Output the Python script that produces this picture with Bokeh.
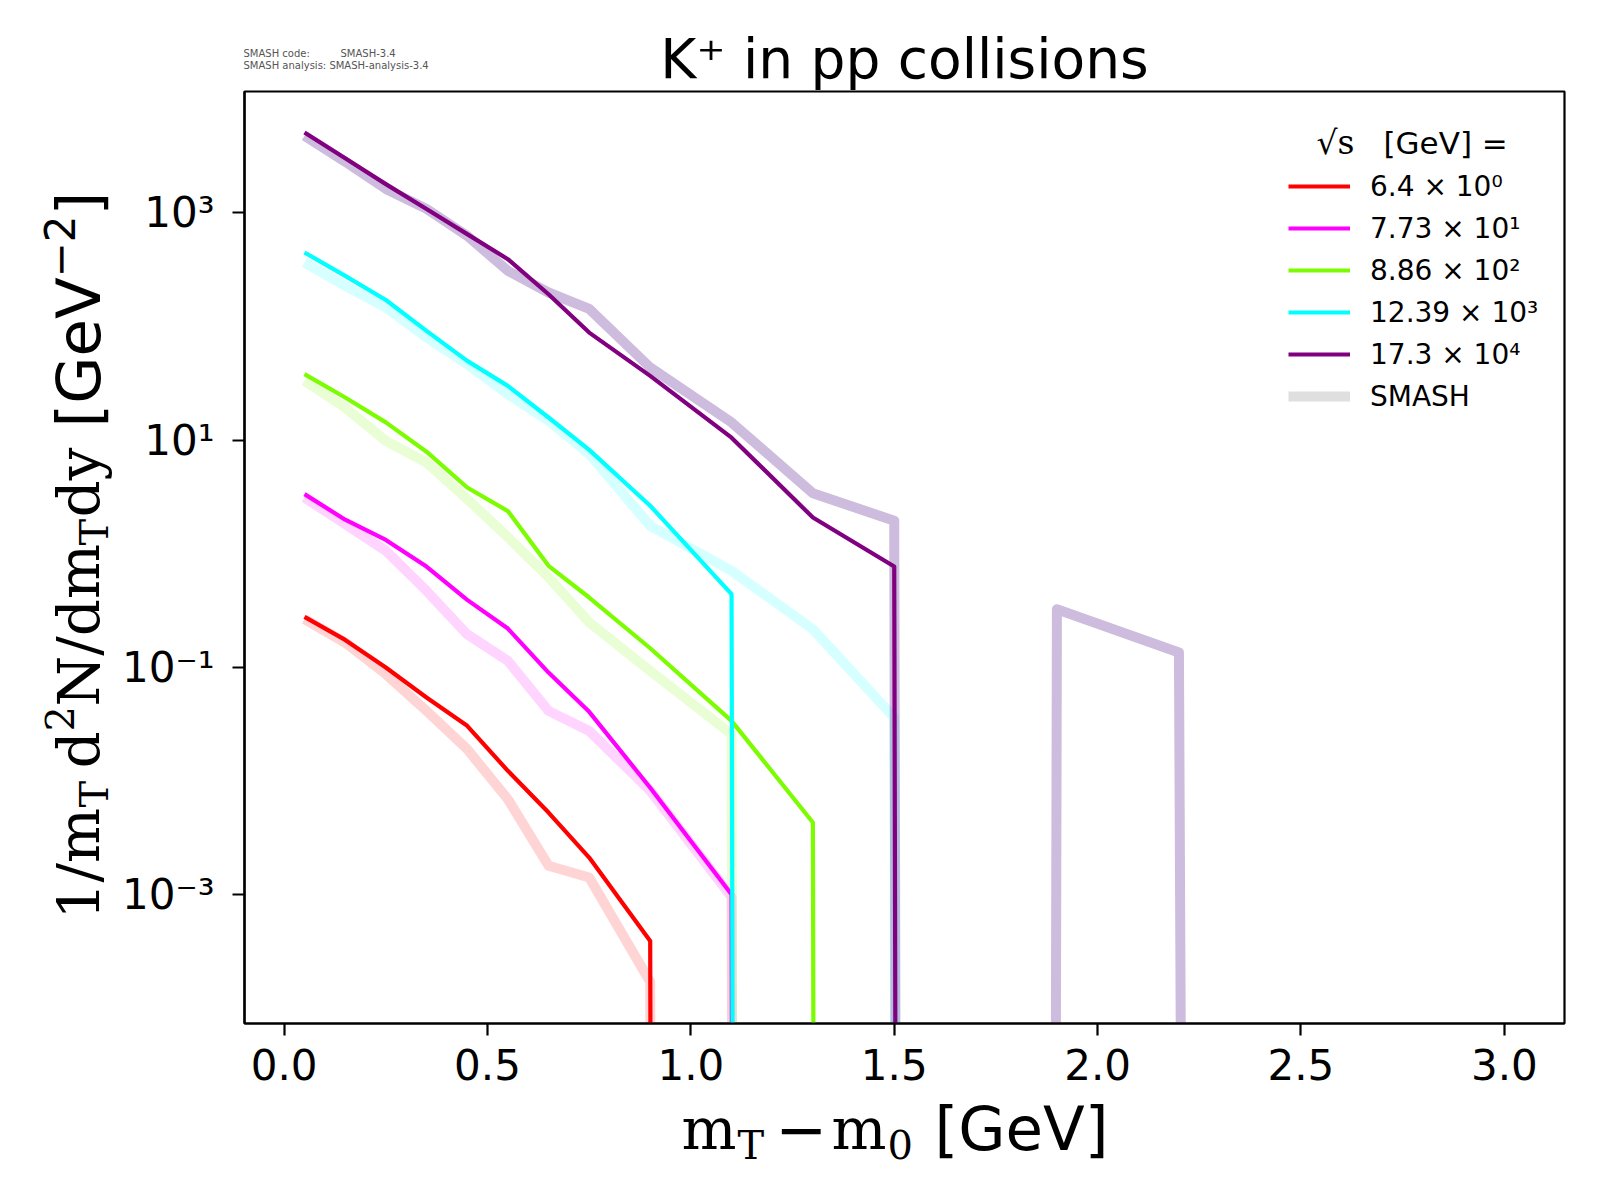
import math
from bokeh.plotting import figure
from bokeh.layouts import column, row
from bokeh.models import (Range1d, Label, Legend, LegendItem, FixedTicker,
                          CustomJSTickFormatter)
from bokeh.embed import file_html
from bokeh.resources import INLINE

# ---------------- data ----------------
mt_bins = [0.05, 0.15, 0.25, 0.35, 0.45, 0.55, 0.65, 0.75, 0.9, 1.1, 1.3, 1.5,
           1.7, 1.9, 2.2, 2.6, 3.0]

energy_labels = ["6.4 × 10⁰", "7.73 × 10¹", "8.86 × 10²", "12.39 × 10³", "17.3 × 10⁴"]
line_colors = ["#ff0000", "#ff00ff", "#7cfc00", "#00ffff", "#800080"]
smash_colors = ["#ff0000", "#ff00ff", "#7cfc00", "#00ffff", "#663399"]
smash_alphas = [0.17, 0.17, 0.17, 0.16, 0.33]

data_64 = [0.278, 0.174, 0.0994, 0.0541, 0.0305, 0.01225, 0.00526, 0.00211, 0.00039,
           0, 0, 0, 0, 0, 0, 0, 0]
data_773 = [3.34, 1.99, 1.32, 0.769, 0.392, 0.219, 0.0898, 0.0405, 0.0087, 0.00100,
            0, 0, 0, 0, 0, 0, 0]
data_886 = [38.0, 23.7, 14.3, 7.9, 3.82, 2.37, 0.782, 0.411, 0.147, 0.0337, 0.0043,
            0, 0, 0, 0, 0, 0]
data_1239 = [448, 279, 171, 91.4, 49.8, 30.0, 15.8, 8.2, 2.64, 0.44,
             0, 0, 0, 0, 0, 0, 0]
data_173 = [5090, 3020, 1790, 1080, 650, 391, 192, 88.3, 36.7, 10.5, 2.08, 0.77,
            0, 0, 0, 0, 0]

smash_64 = [0.265, 0.165, 0.0869, 0.0413, 0.019, 0.0069, 0.00179, 0.00141, 0.00017,
            0, 0, 0, 0, 0, 0, 0, 0]
smash_773 = [3.12, 1.82, 1.06, 0.471, 0.195, 0.114, 0.0413, 0.0275, 0.0082, 0.00095,
             0, 0, 0, 0, 0, 0, 0]
smash_886 = [33.2, 19.3, 9.84, 6.34, 3.02, 1.40, 0.62, 0.248, 0.093, 0.0258,
             0, 0, 0, 0, 0, 0, 0]
smash_1239 = [366, 228, 147, 80, 46.6, 25.3, 14.8, 7.55, 1.76, 0.706, 0.216, 0.036,
              0, 0, 0, 0, 0]
smash_173 = [4760, 2820, 1625, 1084, 628, 309, 199, 143, 43.5, 14.3, 3.4, 1.95,
             0, 0.324, 0.135, 0, 0]

x_tick_values = [0.0, 0.5, 1.0, 1.5, 2.0, 2.5, 3.0]
x_tick_labels = ["0.0", "0.5", "1.0", "1.5", "2.0", "2.5", "3.0"]
y_tick_values = [1e-3, 1e-1, 1e1, 1e3]
y_tick_labels = ["10⁻³", "10⁻¹", "10¹", "10³"]

exp_series = [data_64, data_773, data_886, data_1239, data_173]
smash_series = [smash_64, smash_773, smash_886, smash_1239, smash_173]

# zero bins are clipped far below the axis, like a log axis clips them
FLOOR = 1e-300


def clip(vals):
    return [v if v > 0 else FLOOR for v in vals]


SERIF = "DejaVu Serif"
SANS = "DejaVu Sans"

# page regions (px)
W_TOTAL = 1584
TOP_H = 90
BOT_Y = 1092
MID_H = BOT_Y - TOP_H
BOT_H = 1184 - BOT_Y
LEFT_W = 118
MAIN_W = W_TOTAL - LEFT_W
FRAME_L, FRAME_R, FRAME_T, FRAME_B = 244, 1564, 91, 1023
PX_PER_DEC = 113.6
Y_LOG_MIN = -4.136
Y_LOG_MAX = Y_LOG_MIN + (FRAME_B - FRAME_T) / PX_PER_DEC
MID_K = 0.345   # em offset from 'middle' anchor to the alphabetic baseline


def blank(width, height):
    f = figure(width=width, height=height, x_range=Range1d(0, 1),
               y_range=Range1d(0, 1), x_axis_location=None, y_axis_location=None,
               output_backend="svg", toolbar_location=None, min_border=0)
    f.grid.visible = False
    f.outline_line_color = None
    f.background_fill_color = "white"
    f.border_fill_color = "white"
    return f


def add_text(fig, fx0, fy0, text, X, Y, font, size, align="left", angle=0.0,
             color="black", is_middle=False):
    """Place text whose alphabetic baseline passes through page point (X, Y)."""
    off = 0.0 if is_middle else MID_K * size
    if angle == 0.0:
        xa, ya = X, Y - off
    else:
        xa, ya = X - off, Y
    fig.add_layout(Label(x=xa - fx0, y=fy0 - ya, x_units="screen", y_units="screen",
                         text=text, text_font=font, text_font_size=f"{size}px",
                         text_align=align, text_baseline="middle", angle=angle,
                         text_color=color))


# ---------------- main figure ----------------
p = figure(width=MAIN_W, height=MID_H,
           x_range=Range1d(-0.0975, 3.148),
           y_range=Range1d(10 ** Y_LOG_MIN, 10 ** Y_LOG_MAX),
           y_axis_type="log",
           output_backend="svg", toolbar_location=None,
           min_border_left=FRAME_L - LEFT_W, min_border_right=W_TOTAL - FRAME_R,
           min_border_top=FRAME_T - TOP_H,
           min_border_bottom=BOT_Y - FRAME_B)
p.title.visible = False
p.grid.visible = False
p.background_fill_color = "white"
p.border_fill_color = "white"
p.outline_line_color = "black"
p.outline_line_width = 2.2
p.outline_line_alpha = 1.0

for ax in (p.xaxis[0], p.yaxis[0]):
    ax.axis_line_color = "black"
    ax.axis_line_width = 2.2
    ax.major_tick_line_color = "black"
    ax.major_tick_line_width = 2.2
    ax.major_tick_out = 12
    ax.major_tick_in = 0
    ax.minor_tick_line_color = None
    ax.major_label_text_font = SANS
    ax.major_label_text_font_size = "42px"
    ax.major_label_text_color = "black"

p.xaxis.ticker = FixedTicker(ticks=x_tick_values, minor_ticks=[])
p.xaxis.formatter = CustomJSTickFormatter(
    args=dict(vals=x_tick_values, labs=x_tick_labels),
    code="""
let best = 0;
for (let i = 0; i < vals.length; i++) {
  if (Math.abs(vals[i] - tick) < Math.abs(vals[best] - tick)) best = i;
}
return labs[best];
""")
p.xaxis.major_label_standoff = 13

p.yaxis.ticker = FixedTicker(ticks=y_tick_values, minor_ticks=[])
p.yaxis.formatter = CustomJSTickFormatter(
    args=dict(vals=y_tick_values, labs=y_tick_labels),
    code="""
let best = 0;
const lt = Math.log10(tick);
for (let i = 0; i < vals.length; i++) {
  if (Math.abs(Math.log10(vals[i]) - lt) < Math.abs(Math.log10(vals[best]) - lt)) best = i;
}
return labs[best];
""")
p.yaxis.major_label_standoff = 18

for vals, col, al in zip(smash_series, smash_colors, smash_alphas):
    p.line(mt_bins, clip(vals), line_color=col, line_alpha=al, line_width=10,
           line_join="round")

exp_renderers = []
for vals, col in zip(exp_series, line_colors):
    r = p.line(mt_bins, clip(vals), line_color=col, line_width=4.2,
               line_join="round")
    exp_renderers.append(r)

# legend proxy for the SMASH entry (sits outside the visible x range)
smash_proxy = p.line(x=[-5, -4], y=[1, 1], line_color="#808080", line_alpha=0.25,
                     line_width=10)

items = [LegendItem(label=lab, renderers=[r])
         for lab, r in zip(energy_labels, exp_renderers)]
items.append(LegendItem(label="SMASH", renderers=[smash_proxy]))

legend = Legend(items=items, location=(1044, 610), orientation="vertical",
                glyph_width=62, glyph_height=34, label_height=34, spacing=8,
                padding=0, margin=0, label_standoff=20,
                label_text_font=SANS, label_text_font_size="28px",
                label_text_color="black",
                border_line_color=None, background_fill_alpha=0)
p.add_layout(legend)

# legend title (inside the frame)
add_text(p, FRAME_L, FRAME_B, "√s", 1316, 153, SERIF, 33)
add_text(p, FRAME_L, FRAME_B, "[GeV] =", 1383, 153, SANS, 31)

# ---------------- top strip: title + version text ----------------
top = blank(W_TOTAL, TOP_H)
add_text(top, 0, TOP_H, "K⁺ in pp collisions", 904, 77, SANS, 55, align="center")
add_text(top, 0, TOP_H, "SMASH code:", 243, 53, SANS, 10, color="#555555",
         is_middle=True)
add_text(top, 0, TOP_H, "SMASH-3.4", 340, 53, SANS, 10, color="#555555",
         is_middle=True)
add_text(top, 0, TOP_H, "SMASH analysis: SMASH-analysis-3.4", 243, 65, SANS, 10,
         color="#555555", is_middle=True)

# ---------------- left strip: y-axis label (rotated) ----------------
# its frame is aligned by the row with the main frame (top 91, bottom 1023)
left = blank(LEFT_W, MID_H)
R = math.pi / 2
ylab_parts = [("1/m", SERIF, 58, 99, 919), ("T", SERIF, 40, 107, 807),
              ("d", SERIF, 58, 99, 768), ("2", SERIF, 40, 73, 731),
              ("N/dm", SERIF, 58, 99, 706), ("T", SERIF, 40, 107, 545),
              ("dy", SERIF, 58, 99, 517), ("[GeV", SANS, 61, 99, 427),
              ("−2", SANS, 42, 73, 277), ("]", SANS, 61, 99, 215)]
for txt, fnt, sz, X, Y in ylab_parts:
    add_text(left, 0, FRAME_B, txt, X, Y, fnt, sz, angle=R)

# ---------------- bottom strip: x-axis label ----------------
bottom = blank(W_TOTAL, BOT_H)
xlab_parts = [("m", SERIF, 58, 681, 1149), ("T", SERIF, 40, 737, 1158),
              ("−", SANS, 62, 775, 1149), ("m", SERIF, 58, 831, 1149),
              ("0", SERIF, 40, 887, 1158), ("[GeV]", SANS, 61, 934, 1149)]
for txt, fnt, sz, X, Y in xlab_parts:
    add_text(bottom, 0, 1184, txt, X, Y, fnt, sz)

layout = column(top, row(left, p, spacing=0), bottom, spacing=0)

open("out.html", "w").write(file_html(layout, INLINE))
